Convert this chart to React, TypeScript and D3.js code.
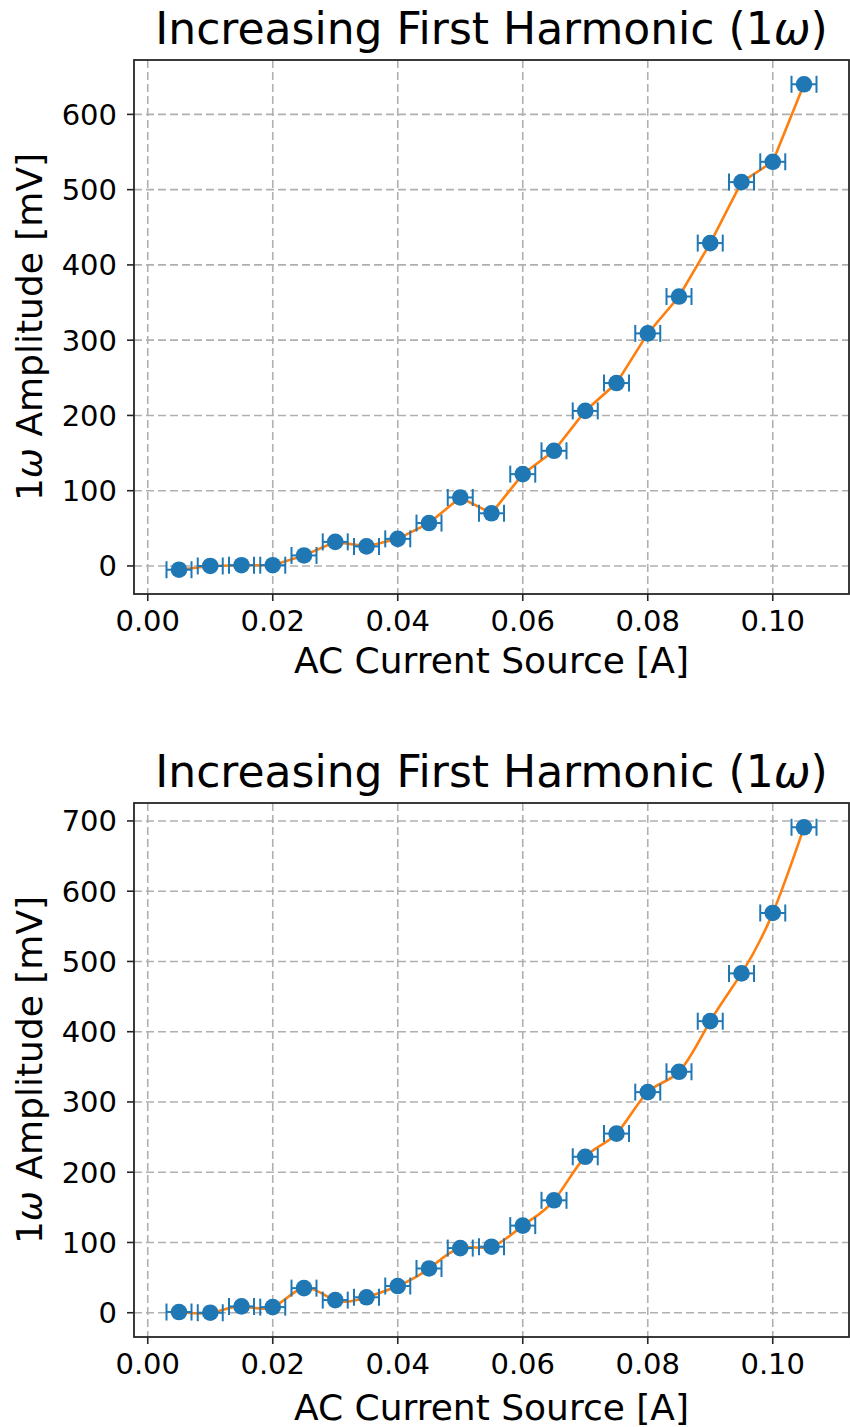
import React from "react";
import * as d3 from "d3";

const xValues = [0.005, 0.01, 0.015, 0.02, 0.025, 0.03, 0.035, 0.04, 0.045, 0.05, 0.055, 0.06, 0.065, 0.07, 0.075, 0.08, 0.085, 0.09, 0.095, 0.1, 0.105];
const topValues = [-5, 0, 1, 1, 14, 32, 26, 36, 57, 91, 70, 122, 153, 206, 243, 309, 358, 429, 510, 537, 640];
const bottomValues = [1, 0, 9, 8, 35, 18, 22, 38, 63, 92, 94, 124, 160, 222, 255, 314, 343, 415, 483, 569, 691];
const xError = 0.002;
const xTicks = [0, 0.02, 0.04, 0.06, 0.08, 0.1];
const topYTicks = [0, 100, 200, 300, 400, 500, 600];
const bottomYTicks = [0, 100, 200, 300, 400, 500, 600, 700];
const titleMain = "Increasing First Harmonic (1";
const xLabel = "AC Current Source [A]";

const FONT = "'DejaVu Sans', sans-serif";
const BLUE = "#1f77b4";
const ORANGE = "#ff7f0e";
const AX = "#262626";
const GRID = "#b0b0b0";

type PanelProps = {
  values: number[];
  yTicks: number[];
  top: number;
  bottom: number;
  xLabelGap: number;
  smooth: boolean;
};

function Panel({ values, yTicks, top, bottom, xLabelGap, smooth }: PanelProps) {
  const left = 134;
  const right = 849;
  const xmin = d3.min(xValues)! - xError;
  const xmax = d3.max(xValues)! + xError;
  const xm = (xmax - xmin) * 0.05;
  const x = d3.scaleLinear().domain([xmin - xm, xmax + xm]).range([left, right]);
  const ymin = d3.min(values)!;
  const ymax = d3.max(values)!;
  const ymg = (ymax - ymin) * 0.05;
  const y = d3.scaleLinear().domain([ymin - ymg, ymax + ymg]).range([bottom, top]);
  const pts: [number, number][] = xValues.map((v, i) => [x(v), y(values[i])]);
  const line = d3.line().curve(smooth ? d3.curveNatural : d3.curveLinear)(pts) || "";
  const cy = (top + bottom) / 2;
  const cx = (left + right) / 2;
  return (
    <g>
      {xTicks.map((t) => (
        <line key={"gx" + t} x1={x(t)} x2={x(t)} y1={top} y2={bottom} stroke={GRID} strokeWidth={1.6} strokeDasharray="8,4" />
      ))}
      {yTicks.map((t) => (
        <line key={"gy" + t} x1={left} x2={right} y1={y(t)} y2={y(t)} stroke={GRID} strokeWidth={1.6} strokeDasharray="8,4" />
      ))}
      <path d={line} fill="none" stroke={ORANGE} strokeWidth={2.6} />
      {xValues.map((v, i) => (
        <g key={"e" + i} stroke={BLUE} strokeWidth={2}>
          <line x1={x(v - xError)} x2={x(v + xError)} y1={y(values[i])} y2={y(values[i])} />
          <line x1={x(v - xError)} x2={x(v - xError)} y1={y(values[i]) - 8.5} y2={y(values[i]) + 8.5} />
          <line x1={x(v + xError)} x2={x(v + xError)} y1={y(values[i]) - 8.5} y2={y(values[i]) + 8.5} />
        </g>
      ))}
      {xValues.map((v, i) => (
        <circle key={"m" + i} cx={x(v)} cy={y(values[i])} r={8.3} fill={BLUE} />
      ))}
      <rect x={left} y={top} width={right - left} height={bottom - top} fill="none" stroke={AX} strokeWidth={1.8} />
      {xTicks.map((t) => (
        <g key={"xt" + t}>
          <line x1={x(t)} x2={x(t)} y1={bottom} y2={bottom + 7} stroke={AX} strokeWidth={1.6} />
          <text x={x(t)} y={bottom + 37} textAnchor="middle" fontFamily={FONT} fontSize={29} fill="#000">
            {d3.format(".2f")(t)}
          </text>
        </g>
      ))}
      {yTicks.map((t) => (
        <g key={"yt" + t}>
          <line x1={left - 7} x2={left} y1={y(t)} y2={y(t)} stroke={AX} strokeWidth={1.6} />
          <text x={117} y={y(t) + 10.5} textAnchor="end" fontFamily={FONT} fontSize={29} fill="#000">
            {t}
          </text>
        </g>
      ))}
      <text x={cx} y={bottom + xLabelGap} textAnchor="middle" fontFamily={FONT} fontSize={36} fill="#000">
        {xLabel}
      </text>
      <text transform={`translate(42,${cy}) rotate(-90)`} textAnchor="middle" fontFamily={FONT} fontSize={36} fill="#000">
        1<tspan fontStyle="italic">ω</tspan> Amplitude [mV]
      </text>
      <text x={cx} y={top - 16} textAnchor="middle" fontFamily={FONT} fontSize={44} fill="#000">
        {titleMain}
        <tspan fontStyle="italic">ω</tspan>)
      </text>
    </g>
  );
}

export default function App() {
  return (
    <svg width={850} height={1427} style={{ position: "absolute", left: 0, top: 0, background: "#fff" }}>
      <rect width={850} height={1427} fill="#fff" />
      <Panel values={topValues} yTicks={topYTicks} top={60} bottom={594} xLabelGap={79} smooth={false} />
      <Panel values={bottomValues} yTicks={bottomYTicks} top={803} bottom={1337} xLabelGap={83} smooth={true} />
    </svg>
  );
}
